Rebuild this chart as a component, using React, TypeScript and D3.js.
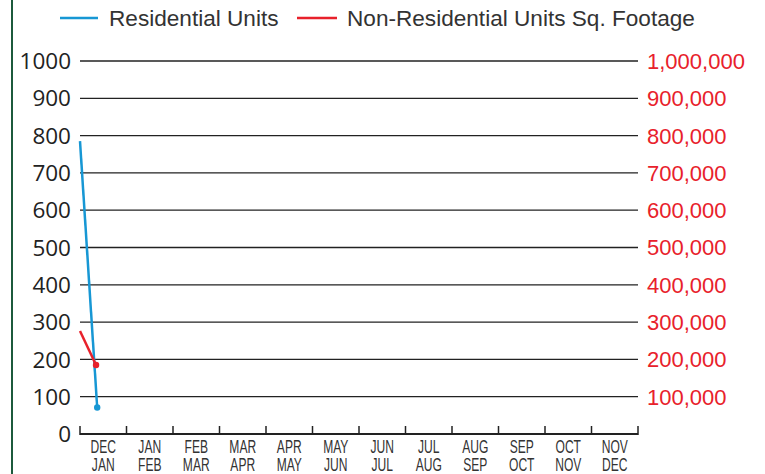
import React from 'react'
import { scaleLinear, line } from 'd3'

const periods = [
  ['DEC', 'JAN'], ['JAN', 'FEB'], ['FEB', 'MAR'], ['MAR', 'APR'], ['APR', 'MAY'], ['MAY', 'JUN'],
  ['JUN', 'JUL'], ['JUL', 'AUG'], ['AUG', 'SEP'], ['SEP', 'OCT'], ['OCT', 'NOV'], ['NOV', 'DEC'],
]
const leftTicks = [0, 100, 200, 300, 400, 500, 600, 700, 800, 900, 1000]
const rightTicks = [100000, 200000, 300000, 400000, 500000, 600000, 700000, 800000, 900000, 1000000]

// position in periods from the left edge of the axis, value
const residential = [
  { pos: 0, value: 785 },
  { pos: 0.37, value: 71 },
]
const nonResidential = [
  { pos: 0, value: 276000 },
  { pos: 0.345, value: 185000 },
]

const BLUE = '#1797d4'
const RED = '#e8212b'

export default function App() {
  const margin = { left: 80, right: 638, top: 61, bottom: 434 }

  const x = scaleLinear().domain([0, periods.length]).range([margin.left, margin.right])
  const yL = scaleLinear().domain([0, 1000]).range([margin.bottom, margin.top])
  const yR = scaleLinear().domain([0, 1000000]).range([margin.bottom, margin.top])

  const resLine = line<{ pos: number; value: number }>()
    .x(d => x(d.pos))
    .y(d => yL(d.value))
  const nonLine = line<{ pos: number; value: number }>()
    .x(d => x(d.pos))
    .y(d => yR(d.value))

  const fmt = (v: number) => v.toLocaleString('en-US')
  const resLast = residential[residential.length - 1]
  const nonLast = nonResidential[nonResidential.length - 1]

  return (
    <svg width={765} height={474} style={{ position: 'absolute', left: 0, top: 0, background: '#fff' }}>
      <line x1={12} x2={12} y1={0} y2={474} stroke="#1c5a3c" strokeWidth={2} />

      {/* legend */}
      <g fontFamily="Liberation Sans, Arial, sans-serif" fontSize={22.6} fill="#333">
        <line x1={60} x2={98} y1={18} y2={18} stroke={BLUE} strokeWidth={2.5} />
        <text x={109} y={26}>Residential Units</text>
        <line x1={297} x2={337} y1={18} y2={18} stroke={RED} strokeWidth={2.5} />
        <text x={347} y={26}>Non-Residential Units Sq. Footage</text>
      </g>

      {/* grid lines */}
      {leftTicks.filter(t => t > 0).map(t => (
        <line key={t} x1={margin.left} x2={margin.right} y1={yL(t)} y2={yL(t)} stroke="#222" strokeWidth={1.3} />
      ))}

      {/* left labels */}
      <g fontFamily="Open Sans, sans-serif" fontSize={22.5} fill="#222" textAnchor="end">
        {leftTicks.map(t => (
          <text key={t} x={71} y={yL(t)} dy="0.36em">{t}</text>
        ))}
      </g>

      {/* right labels */}
      <g fontFamily="Liberation Sans, Arial, sans-serif" fontSize={22} fill={RED}>
        {rightTicks.map(t => (
          <text key={t} x={647} y={yR(t)} dy="0.36em">{fmt(t)}</text>
        ))}
      </g>

      {/* bottom axis */}
      <line x1={margin.left} x2={margin.right} y1={margin.bottom} y2={margin.bottom} stroke="#222" strokeWidth={2} />
      {periods.map((_, i) => i).concat([periods.length]).map(i => (
        <line key={i} x1={x(i)} x2={x(i)} y1={margin.bottom + 1} y2={margin.bottom - 8} stroke="#222" strokeWidth={1.5} />
      ))}
      <g fontFamily="Liberation Sans, Arial, sans-serif" fontSize={17.5} fill="#333" textAnchor="middle">
        {periods.map((p, i) => (
          <text key={i} transform={`translate(${x(i + 0.5)},0) scale(0.69,1)`}>
            <tspan x={0} y={453}>{p[0]}</tspan>
            <tspan x={0} y={471}>{p[1]}</tspan>
          </text>
        ))}
      </g>

      {/* series */}
      <path d={resLine(residential) || ''} fill="none" stroke={BLUE} strokeWidth={2.5} />
      <circle cx={x(resLast.pos)} cy={yL(resLast.value)} r={3.2} fill={BLUE} />
      <path d={nonLine(nonResidential) || ''} fill="none" stroke={RED} strokeWidth={2.5} />
      <circle cx={x(nonLast.pos)} cy={yR(nonLast.value)} r={3.2} fill={RED} />
    </svg>
  )
}
